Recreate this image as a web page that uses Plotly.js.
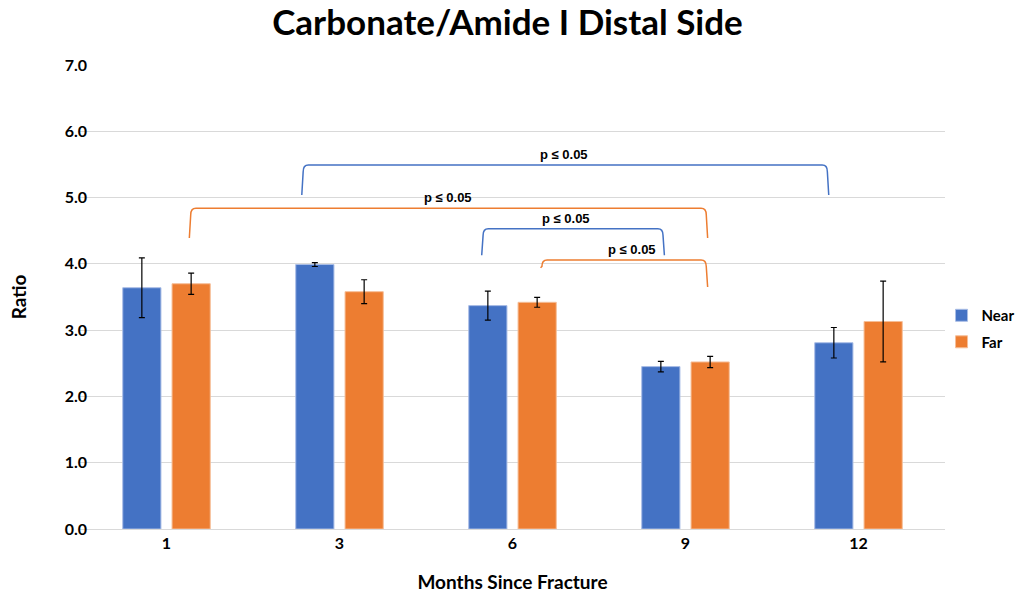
<!DOCTYPE html>
<html>
<head>
<meta charset="utf-8">
<script src="https://cdn.plot.ly/plotly-3.0.1.min.js"></script>
<style>html,body{margin:0;padding:0;background:#fff;}#chart{width:1015px;height:595px;}</style>
</head>
<body>
<div id="chart"></div>
<script>
const categories = ['1', '3', '6', '9', '12'];
const nearValues = [3.64, 3.99, 3.37, 2.45, 2.81];
const nearErrors = [0.45, 0.03, 0.22, 0.08, 0.23];
const farValues = [3.70, 3.58, 3.42, 2.52, 3.13];
const farErrors = [0.16, 0.18, 0.075, 0.085, 0.61];
const yTickVals = [0, 1, 2, 3, 4, 5, 6, 7];
const yTickText = ['0.0', '1.0', '2.0', '3.0', '4.0', '5.0', '6.0', '7.0'];
// brackets: x left, x right, y top, y at left end, y at right end, label, series colour
const bracketXLeft = [0.79, 0.14, 1.83, 2.17];
const bracketXRight = [3.82, 3.12, 2.87, 3.12];
const bracketYTop = [5.49, 4.84, 4.53, 4.06];
const bracketYLeftEnd = [5.04, 4.39, 4.13, 3.94];
const bracketYRightEnd = [5.04, 4.39, 4.13, 3.65];
const bracketLabels = ['p ≤ 0.05', 'p ≤ 0.05', 'p ≤ 0.05', 'p ≤ 0.05'];
const bracketLabelX = [2.30, 1.63, 2.31, 2.69];
const bracketSeries = ['Near', 'Far', 'Near', 'Far'];

const colors = {Near: '#4472C4', Far: '#ED7D31'};
const xIdx = categories.map((c, i) => i);
const font = 'Lato, "Open Sans", sans-serif';

const traces = [
  {type: 'bar', name: 'Near', legendgroup: 'g1', x: xIdx, y: nearValues,
   marker: {color: colors.Near, line: {color: '#A9BDE6', width: 1}},
   error_y: {type: 'data', array: nearErrors, visible: true, color: '#000', thickness: 1.2, width: 3}},
  {type: 'bar', name: 'Far', legendgroup: 'g2', x: xIdx, y: farValues,
   marker: {color: colors.Far, line: {color: '#F6BE98', width: 1}},
   error_y: {type: 'data', array: farErrors, visible: true, color: '#000', thickness: 1.2, width: 3}}
];

const shapes = [];
const annotations = [];
for (let i = 0; i < bracketXLeft.length; i++) {
  const x0 = bracketXLeft[i], x1 = bracketXRight[i], yt = bracketYTop[i];
  const yl = bracketYLeftEnd[i], yr = bracketYRightEnd[i];
  const dx = 0.03, dy = 0.1;
  const path = `M ${x0 - 0.008},${yl} L ${x0},${yt - dy} Q ${x0},${yt} ${x0 + dx},${yt} L ${x1 - dx},${yt} Q ${x1},${yt} ${x1},${yt - dy} L ${x1 + 0.008},${yr}`;
  shapes.push({type: 'path', xref: 'x', yref: 'y', path: path,
    line: {color: colors[bracketSeries[i]], width: 1.5}});
  annotations.push({x: bracketLabelX[i], y: yt, xref: 'x', yref: 'y', text: bracketLabels[i],
    showarrow: false, yanchor: 'bottom', yshift: 1,
    font: {family: '"Liberation Sans", Arial, sans-serif', size: 13, color: '#000', weight: 'bold'}});
}

const layout = {
  width: 1015, height: 595,
  margin: {l: 80, r: 70, t: 65, b: 66, autoexpand: false},
  paper_bgcolor: '#fff', plot_bgcolor: '#fff',
  title: {text: '<b>Carbonate/Amide I Distal Side</b>', x: 0.5, xanchor: 'center', y: 0.962, yanchor: 'middle',
    font: {family: font, size: 35, color: '#000'}},
  barmode: 'group', bargap: 0.43, bargroupgap: 0.225,
  xaxis: {type: 'linear', range: [-0.5, 4.5], tickvals: xIdx, ticktext: categories,
    showgrid: false, zeroline: false, showline: true, linecolor: '#D9D9D9', linewidth: 1,
    ticks: '', tickfont: {family: font, size: 16, color: '#000', weight: 'bold'},
    title: {text: '<b>Months Since Fracture</b>', font: {family: font, size: 19, color: '#000'}, standoff: 24}},
  yaxis: {range: [0, 7], tickvals: yTickVals, ticktext: yTickText,
    showgrid: true, gridcolor: '#D9D9D9', gridwidth: 1, zeroline: false, showline: false,
    ticks: '', ticklen: 0, ticklabelstandoff: -8, tickfont: {family: font, size: 16, color: '#000', weight: 'bold'},
    title: {text: '<b>Ratio</b>', font: {family: font, size: 19, color: '#000'}, standoff: 32}},
  showlegend: true,
  legend: {x: 0.996, xanchor: 'left', y: 0.432, yanchor: 'middle', bgcolor: 'rgba(0,0,0,0)',
    traceorder: 'grouped', tracegroupgap: 4,
    font: {family: font, size: 15, color: '#000', weight: 'bold'}, itemwidth: 30},
  shapes: shapes,
  annotations: annotations
};

Plotly.newPlot('chart', traces, layout, {displayModeBar: false, staticPlot: true});
</script>
</body>
</html>
